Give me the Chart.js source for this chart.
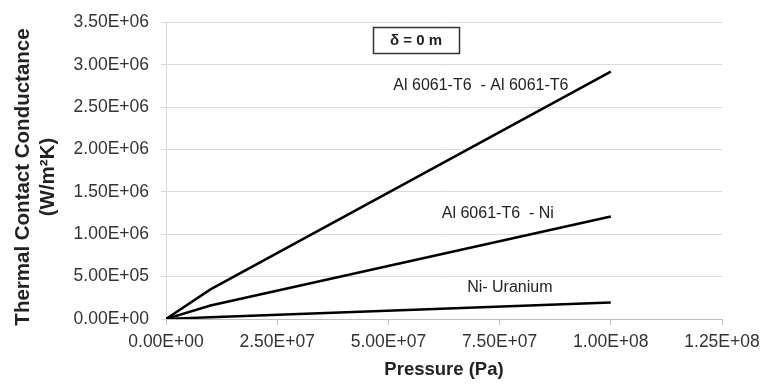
<!DOCTYPE html>
<html>
<head>
<meta charset="utf-8">
<script src="https://cdn.jsdelivr.net/npm/chart.js@4/dist/chart.umd.min.js"></script>
<style>
  html, body { margin: 0; padding: 0; background: #fff; }
  #wrap { width: 764px; height: 388px; }
</style>
</head>
<body>
<div id="wrap"><canvas id="myChart" width="764" height="388"></canvas></div>
<script>
// pressure points (Pa) shared by all three curves
const pressure = [0, 1e7, 1e8];
// thermal contact conductance (W/m2K)
const alAl = [0, 3.5e5, 2.92e6];
const alNi = [0, 1.6e5, 1.21e6];
const niU = [0, 2.2e4, 1.95e5];

const seriesNames = ['Al 6061-T6  - Al 6061-T6', 'Al 6061-T6  - Ni', 'Ni- Uranium'];
const boxText = 'δ = 0 m';
const yTitle = ['Thermal Contact Conductance', '(W/m\u00B2K)'];

const FONT = '"Liberation Sans", Arial, sans-serif';

// 3.50E+06 style labels like excel
const sci = (v) => {
    const parts = Number(v).toExponential(2).split('e');
    const e = parseInt(parts[1], 10);
    return parts[0] + 'E' + (e < 0 ? '-' : '+') + String(Math.abs(e)).padStart(2, '0');
};

const toPoints = (ys) => pressure.map((p, i) => ({ x: p, y: ys[i] }));

// text labels beside each curve + the delta box, placed in data units
const notes = [
    { text: seriesNames[0], x: 7.08e7, y: 2.76e6 },
    { text: seriesNames[1], x: 7.46e7, y: 1.25e6 },
    { text: seriesNames[2], x: 7.73e7, y: 3.75e5 }
];

const notesPlugin = {
    id: 'notes',
    afterDatasetsDraw(chart) {
        const { ctx, scales } = chart;
        ctx.save();
        ctx.fillStyle = '#222';
        ctx.textAlign = 'center';
        ctx.textBaseline = 'middle';
        ctx.font = '16px ' + FONT;
        notes.forEach((n) => {
            ctx.fillText(n.text, scales.x.getPixelForValue(n.x), scales.y.getPixelForValue(n.y));
        });

        // boxed delta label
        const bx = scales.x.getPixelForValue(5.62e7);
        const by = scales.y.getPixelForValue(3.29e6);
        ctx.strokeStyle = '#333';
        ctx.lineWidth = 1.5;
        ctx.strokeRect(Math.round(bx - 43) + 0.5, Math.round(by - 13) + 0.5, 86, 26);
        ctx.font = 'bold 15px ' + FONT;
        ctx.fillText(boxText, bx, by + 1);

        // y axis title, sits a bit below the axis middle in the original
        ctx.translate(0, 177);
        ctx.rotate(-Math.PI / 2);
        ctx.font = 'bold 20.5px ' + FONT;
        ctx.fillText(yTitle[0], 0, 23);
        ctx.fillText(yTitle[1], 0, 48);
        ctx.restore();
    }
};

const lineStyle = {
    borderColor: '#000',
    borderWidth: 2.5,
    pointRadius: 0,
    tension: 0,
    fill: false
};

new Chart(document.getElementById('myChart').getContext('2d'), {
    type: 'scatter',
    data: {
        datasets: [
            { label: seriesNames[0], data: toPoints(alAl), showLine: true, ...lineStyle },
            { label: seriesNames[1], data: toPoints(alNi), showLine: true, ...lineStyle },
            { label: seriesNames[2], data: toPoints(niU), showLine: true, ...lineStyle }
        ]
    },
    options: {
        responsive: false,
        animation: false,
        layout: { padding: { top: 20, right: 42, left: 0, bottom: 0 } },
        plugins: {
            legend: { display: false },
            tooltip: { enabled: false }
        },
        scales: {
            x: {
                type: 'linear',
                min: 0,
                max: 1.25e8,
                afterFit: (scale) => {
                    scale.height = 69;
                    // let layout padding decide the right edge, not the last label
                    scale.paddingLeft = 0;
                    scale.paddingRight = 0;
                },
                ticks: {
                    stepSize: 2.5e7,
                    callback: (v) => sci(v),
                    color: '#333',
                    padding: 7,
                    maxRotation: 0,
                    font: { family: FONT, size: 17.5 }
                },
                grid: {
                    drawOnChartArea: false,
                    drawTicks: true,
                    tickLength: 6,
                    color: '#bfbfbf'
                },
                border: { color: '#bfbfbf', width: 1 },
                title: {
                    display: true,
                    text: 'Pressure (Pa)',
                    color: '#222',
                    font: { family: FONT, size: 18.5, weight: 'bold' },
                    padding: { top: 0, bottom: 7 }
                }
            },
            y: {
                min: 0,
                max: 3.5e6,
                afterFit: (scale) => { scale.width = 166; },
                ticks: {
                    stepSize: 5e5,
                    callback: (v) => sci(v),
                    color: '#333',
                    padding: 12,
                    font: { family: FONT, size: 17.5 }
                },
                grid: {
                    color: '#d9d9d9',
                    tickLength: 5
                },
                border: { color: '#d9d9d9', width: 1 }
            }
        }
    },
    plugins: [notesPlugin]
});
</script>
</body>
</html>
